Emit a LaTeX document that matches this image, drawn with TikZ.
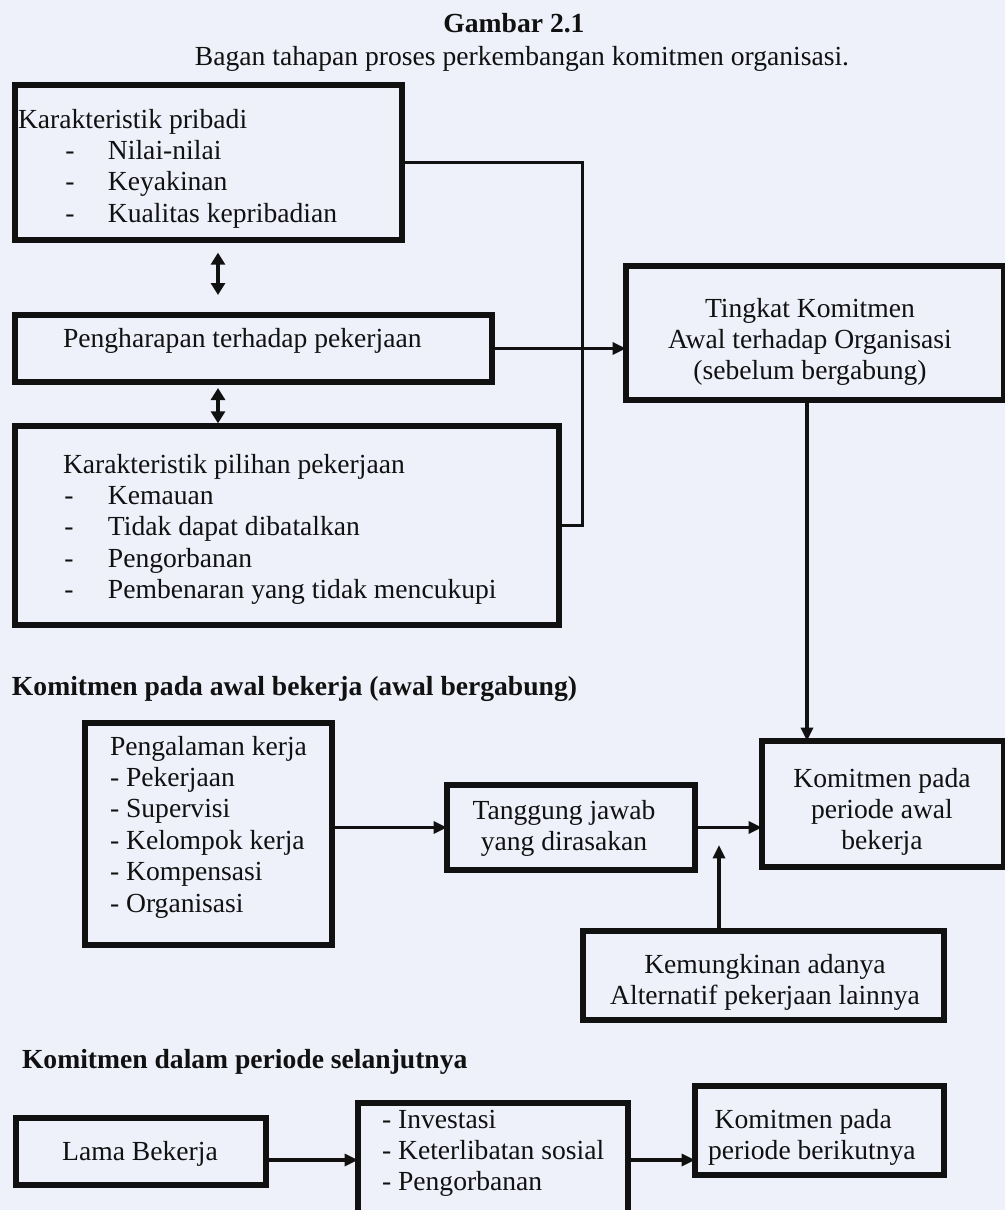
\documentclass[tikz,border=0pt]{standalone}
\usepackage{fontspec}
\setmainfont{Liberation Serif}
\usetikzlibrary{arrows.meta,fit}
\definecolor{paper}{HTML}{EEF0FA}
\definecolor{ink}{HTML}{111111}
% one list row: dash at offset #1, item text at offset #2
\newcommand\dashrow[3]{\makebox[#2][l]{\hspace{#1}-}#3}
\tikzset{
  box/.style={draw=ink, line width=4.5pt, inner sep=0pt, outer sep=0pt},
  txt/.style={inner sep=0pt, outer sep=0pt, text=ink,
    font=\fontsize{20.7pt}{23.6pt}\selectfont},
  head/.style={txt, font=\fontsize{20.7pt}{23.6pt}\selectfont\bfseries},
  conn/.style={draw=ink, line width=2.25pt},
  arr/.style={draw=ink, line width=2.4pt, -{Triangle[length=10pt,width=9pt]}},
  dbl/.style={draw=ink, line width=3.6pt,
    {Triangle[length=9pt,width=10.5pt]}-{Triangle[length=9pt,width=10.5pt]}}
}
\begin{document}
\begin{tikzpicture}[x=0.75pt,y=-0.75pt]
\fill[paper] (0,0) rectangle (1005,1210);
\useasboundingbox (0,0) rectangle (1005,1210);
\clip (0,0) rectangle (1005,1210);

% titles
\node[head, anchor=base] (title) at (514,32) {Gambar 2.1};
\node[txt, anchor=base] (subtitle) at (522,65) {Bagan tahapan proses perkembangan komitmen organisasi.};

% ---- before joining ----
\node[box, fit={(15,85) (402,240)}] (b1) {};
\node[txt, anchor=base west] (b1t) at (18,128) {\begin{tabular}[t]{@{}l@{}}
  Karakteristik pribadi\\
  \dashrow{35.5pt}{67.5pt}{Nilai-nilai}\\
  \dashrow{35.5pt}{67.5pt}{Keyakinan}\\
  \dashrow{35.5pt}{67.5pt}{Kualitas kepribadian}
\end{tabular}};

\node[box, fit={(15,315) (492,382)}] (b2) {};
\node[txt, anchor=base west] (b2t) at (63,347) {Pengharapan terhadap pekerjaan};

\node[box, fit={(15,426) (559,625)}] (b3) {};
\node[txt, anchor=base west] (b3t) at (63,473) {\begin{tabular}[t]{@{}l@{}}
  Karakteristik pilihan pekerjaan\\
  \dashrow{1pt}{33.75pt}{Kemauan}\\
  \dashrow{1pt}{33.75pt}{Tidak dapat dibatalkan}\\
  \dashrow{1pt}{33.75pt}{Pengorbanan}\\
  \dashrow{1pt}{33.75pt}{Pembenaran yang tidak mencukupi}
\end{tabular}};

\node[box, fit={(626,266) (1004,400)}] (b4) {};
\node[txt, anchor=base] (b4t) at (810,317) {\begin{tabular}[t]{@{}c@{}}
  Tingkat Komitmen\\ Awal terhadap Organisasi\\ (sebelum bergabung)
\end{tabular}};

% ---- start of work ----
\node[head, anchor=base west] (h1) at (12,695) {Komitmen pada awal bekerja (awal bergabung)};

\node[box, fit={(85,723) (332,945)}] (pk) {};
\node[txt, anchor=base west] (pkt) at (110,755) {\begin{tabular}[t]{@{}l@{}}
  Pengalaman kerja\\ - Pekerjaan\\ - Supervisi\\ - Kelompok kerja\\ - Kompensasi\\ - Organisasi
\end{tabular}};

\node[box, fit={(447,785) (695,870)}] (tj) {};
\node[txt, anchor=base] (tjt) at (564,819) {\begin{tabular}[t]{@{}c@{}}
  Tanggung jawab\\ yang dirasakan
\end{tabular}};

\node[box, fit={(762,741) (1004,867)}] (b5) {};
\node[txt, anchor=base] (b5t) at (882,787) {\begin{tabular}[t]{@{}c@{}}
  Komitmen pada\\ periode awal\\ bekerja
\end{tabular}};

\node[box, fit={(583,931) (944,1020)}] (km) {};
\node[txt, anchor=base] (kmt) at (765,973) {\begin{tabular}[t]{@{}c@{}}
  Kemungkinan adanya\\ Alternatif pekerjaan lainnya
\end{tabular}};

% ---- later period ----
\node[head, anchor=base west] (h2) at (22,1068) {Komitmen dalam periode selanjutnya};

\node[box, fit={(16,1118) (266,1185)}] (lama) {};
\node[txt, anchor=base] (lamat) at (140,1160) {Lama Bekerja};

\node[box, fit={(358,1103) (628,1240)}] (mid) {};
\node[txt, anchor=base west] (midt) at (382,1128) {\begin{tabular}[t]{@{}l@{}}
  - Investasi\\ - Keterlibatan sosial\\ - Pengorbanan
\end{tabular}};

\node[box, fit={(695,1086) (944,1175)}] (ber) {};
\node[txt, anchor=base west] (bert) at (708,1128) {\begin{tabular}[t]{@{}l@{}}
  \hspace{5pt}Komitmen pada\\ periode berikutnya
\end{tabular}};

% ---- connectors ----
\coordinate (rail) at (582,0);
\coordinate (ax) at (807,0);
\coordinate (dx) at (218,0);
\coordinate (kup) at (719,845);
\coordinate (row) at (0,1160);

\draw[conn] (b1.east) -| (rail |- b3.east) -- (b3.east);
\draw[arr] (b2.east) -- (b2.east -| b4.west);
\draw[arr] (b4.south -| ax) -- (b5.north -| ax);
\draw[dbl, shorten <=9.5pt, shorten >=15pt] (b1.south -| dx) -- (b2.north -| dx);
\draw[dbl, shorten <=4.5pt, shorten >=2pt] (b2.south -| dx) -- (b3.north -| dx);

\draw[arr] (pk.east |- tj.west) -- (tj.west);
\draw[arr] (tj.east) -- (tj.east -| b5.west);
\draw[arr] (km.north -| kup) -- (kup);

\draw[arr] (lama.east |- row) -- (mid.west |- row);
\draw[arr] (mid.east |- row) -- (ber.west |- row);
\end{tikzpicture}
\end{document}
